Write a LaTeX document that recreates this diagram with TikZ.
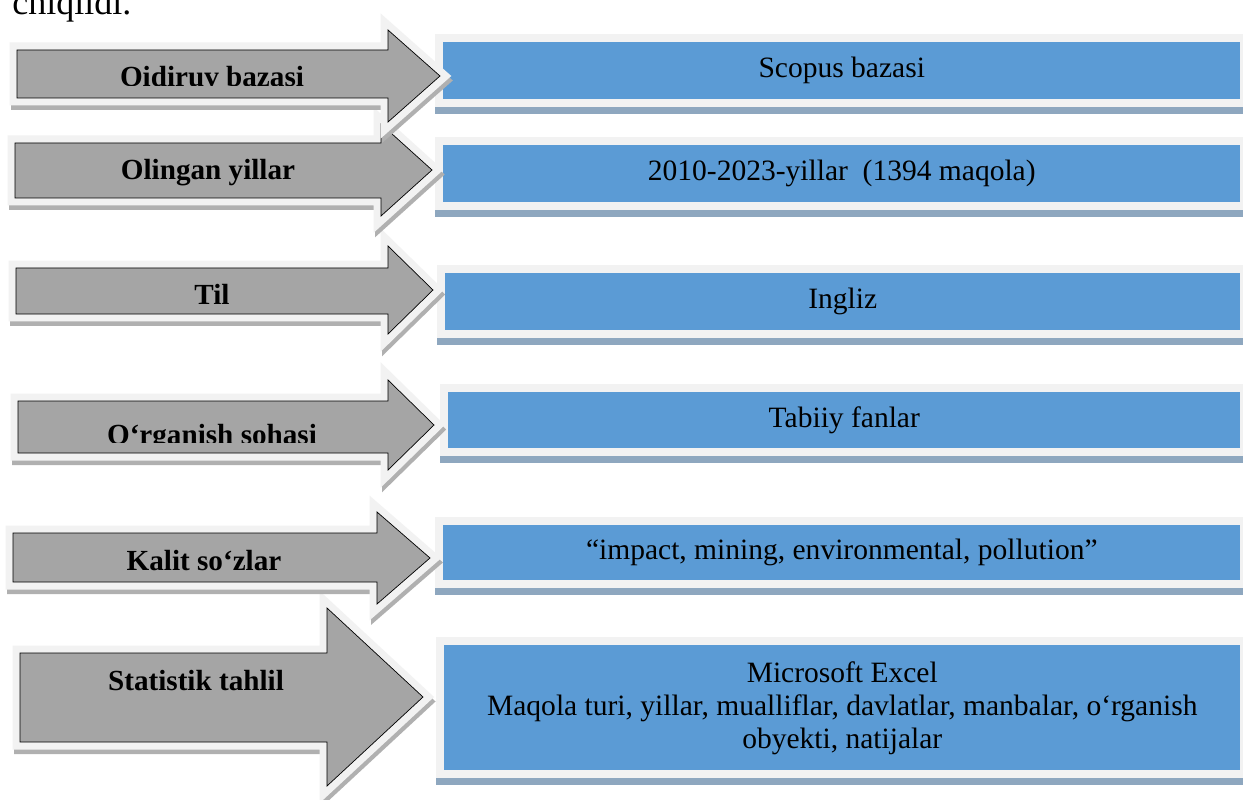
\documentclass[tikz,border=0pt]{standalone}
\usepackage{fontspec}
\setmainfont{Liberation Serif}
\usepackage{tikz}
\definecolor{arrowgray}{HTML}{A5A5A5}
\definecolor{rimgray}{HTML}{F2F2F2}
\definecolor{dropgray}{HTML}{B0B0B0}
\definecolor{boxblue}{HTML}{5B9BD5}
\definecolor{dropblue}{HTML}{8EA7BF}
\tikzset{
  blockarrow/.style={
    preaction={draw=dropgray, fill=dropgray, line width=0.30cm,
               transform canvas={shift={(0.03cm,-0.09cm)}}},
    preaction={draw=rimgray, line width=0.30cm},
    fill=arrowgray
  },
  bluebox/.style={
    rectangle, anchor=north west, inner sep=0pt, align=center,
    font=\fontsize{16.8}{18.8}\selectfont, fill=boxblue,
    preaction={draw=dropblue, fill=dropblue, line width=0.32cm,
               transform canvas={shift={(0,-0.13cm)}}},
    preaction={draw=rimgray, line width=0.32cm}
  },
  arrowlabel/.style={anchor=base, inner sep=0pt,
    font=\fontsize{16.6}{19}\selectfont\bfseries}
}

\begin{document}
\begin{tikzpicture}[x=0.02cm, y=-0.02cm]

  \useasboundingbox (0,0) rectangle (1243,800);
  \fill[white] (0,0) rectangle (1243,800);
  \clip (0,0) rectangle (1243,800);

  \node[anchor=base west, inner sep=0pt, font=\fontsize{20.5}{24}\selectfont]
        (prev) at (12,15) {chiqildi.};

  \node[bluebox, minimum width=15.94cm, minimum height=1.14cm] (scopus) at (443,42)
        {Scopus bazasi};
  \node[bluebox, minimum width=15.94cm, minimum height=1.14cm] (period) at (443,145)
        {2010-2023-yillar~~(1394 maqola)};
  \node[bluebox, minimum width=15.90cm, minimum height=1.14cm] (engl)   at (445,273)
        {Ingliz};
  \node[bluebox, minimum width=15.84cm, minimum height=1.12cm] (sci)    at (448,392)
        {Tabiiy fanlar};
  \node[bluebox, minimum width=15.94cm, minimum height=1.10cm] (kw)     at (443,525)
        {“impact, mining, environmental, pollution”};
  \node[bluebox, minimum width=15.92cm, minimum height=2.50cm] (excel)  at (444,645)
        {Microsoft Excel\\
         Maqola turi, yillar, mualliflar, davlatlar, manbalar, o‘rganish\\
         obyekti, natijalar};

  \draw[blockarrow] (20,653) -- (327,653) -- (327,608) -- (423,697)
        -- (327,786) -- (327,742) -- (20,742) -- cycle;
  \draw[blockarrow] (13,533) -- (377,533) -- (377,512) -- (430,558)
        -- (377,604) -- (377,582) -- (13,582) -- cycle;
  \draw[blockarrow] (18,401) -- (388,401) -- (388,380) -- (434,425)
        -- (388,470) -- (388,453) -- (18,453) -- cycle;
  \draw[blockarrow] (16,268) -- (388,268) -- (388,246) -- (433,290)
        -- (388,334) -- (388,314) -- (16,314) -- cycle;
  \draw[blockarrow] (15,143) -- (381,143) -- (381,124) -- (432,170)
        -- (381,216) -- (381,198) -- (15,198) -- cycle;
  \draw[blockarrow] (17,50) -- (388,50) -- (388,30) -- (440,76)
        -- (388,122) -- (388,98) -- (17,98) -- cycle;

  \begin{scope}
    \clip (0,40) rectangle (400,86);
    \node[arrowlabel] (search) at (212,87) {Oidiruv bazasi};
  \end{scope}
  \node[arrowlabel] (years) at (208,180) {Olingan yillar};
  \node[arrowlabel] (lang)  at (212,305) {Til};
  \begin{scope}
    \clip (0,400) rectangle (400,442);
    \node[arrowlabel] (field) at (212,444) {O‘rganish sohasi};
  \end{scope}
  \node[arrowlabel] (keys)  at (204,570) {Kalit so‘zlar};
  \node[arrowlabel] (stats) at (196,690) {Statistik tahlil};

\end{tikzpicture}
\end{document}
